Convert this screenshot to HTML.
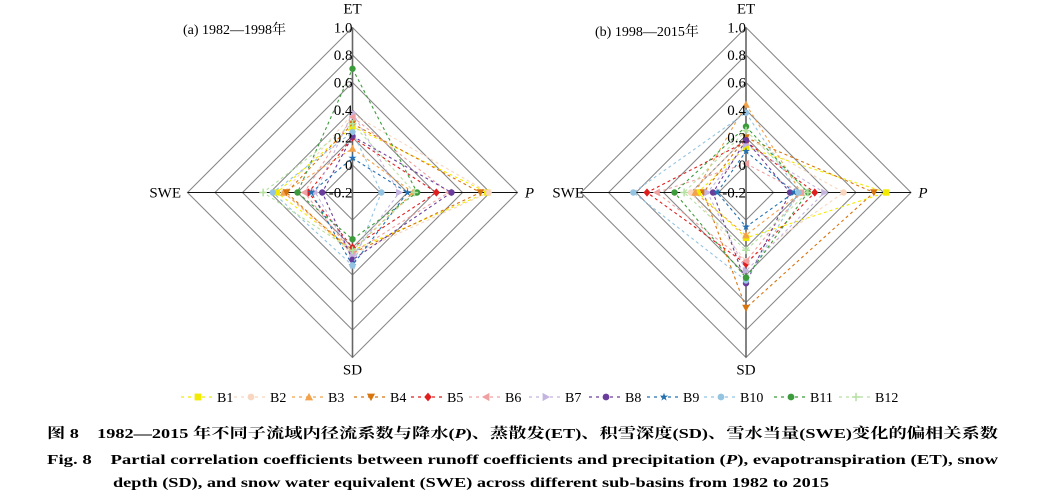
<!DOCTYPE html>
<html><head><meta charset="utf-8"><style>
html,body{margin:0;padding:0;background:#fff;}
svg{display:block;font-family:"Liberation Serif","Noto Serif CJK SC",serif;}
</style></head><body>
<svg id="chart" width="1045" height="496" viewBox="0 0 1045 496" xmlns="http://www.w3.org/2000/svg">
<g id="plots"></g>
<g id="legend"></g>
<text x="47" y="438" font-size="14" font-weight="bold" textLength="951" lengthAdjust="spacingAndGlyphs" font-family="'Liberation Serif','Noto Serif CJK SC',serif">图 8　1982—2015 年不同子流域内径流系数与降水(<tspan font-style="italic">P</tspan>)、蒸散发(ET)、积雪深度(SD)、雪水当量(SWE)变化的偏相关系数</text>
<text x="47" y="464" font-size="14" font-weight="bold" textLength="951" lengthAdjust="spacingAndGlyphs">Fig. 8　Partial correlation coefficients between runoff coefficients and precipitation (<tspan font-style="italic">P</tspan>), evapotranspiration (ET), snow</text>
<text x="113" y="487" font-size="14" font-weight="bold" textLength="716" lengthAdjust="spacingAndGlyphs">depth (SD), and snow water equivalent (SWE) across different sub-basins from 1982 to 2015</text>
</svg>
<script>
const NS="http://www.w3.org/2000/svg";
const axes=["ET","P","SD","SWE"];
const series=["B1","B2","B3","B4","B5","B6","B7","B8","B9","B10","B11","B12"];
const ticks=["1.0","0.8","0.6","0.4","0.2","0","-0.2"];
const tickVals=[1.0,0.8,0.6,0.4,0.2,0,-0.2];
// values per series: [ET, P, SD, SWE]
const dataA=[
 [0.28,0.78,0.22,0.35],[0.37,0.79,0.25,0.30],[0.12,0.24,0.22,0.30],[0.30,0.73,0.24,0.28],
 [0.20,0.41,0.20,0.12],[0.35,0.50,0.24,0.15],[0.38,0.14,0.26,0.07],[0.21,0.52,0.29,0.02],
 [0.05,0.20,0.33,0.10],[0.24,0.01,0.33,0.38],[0.70,0.27,0.14,0.20],[0.30,0.25,0.22,0.45]];
const dataB=[
 [0.13,0.82,0.13,0.15],[0.20,0.51,0.30,0.20],[0.44,0.20,0.11,0.17],[0.20,0.73,0.64,0.11],
 [0.17,0.30,0.32,0.52],[0.01,0.20,0.30,0.45],[0.15,0.37,0.37,0.08],[0.18,0.12,0.46,0.04],
 [0.10,0.15,0.05,0.01],[0.38,0.18,0.44,0.62],[0.28,0.25,0.42,0.32],[0.25,0.25,0.22,0.25]];
const colors=["#f2ea00","#f8d6bf","#f2a24a","#d8740e","#e01e1e","#f0a0a0","#c4b4e0","#6a3c9c","#2470b0","#94c4e2","#3c9c3c","#b4e0a0"];
const markers=["square","circle","tri-up","tri-down","diamond","tri-left","tri-right","circle","star","circle","circle","plus"];
const R=165, vmin=-0.2, vmax=1.0;
function rad(v){return (v-vmin)/(vmax-vmin)*R;}
const dirs=[[0,-1],[1,0],[0,1],[-1,0]];
function el(tag,attrs,parent){const e=document.createElementNS(NS,tag);for(const k in attrs)e.setAttribute(k,attrs[k]);parent.appendChild(e);return e;}
function marker(g,type,x,y,c,s){
 let e;
 if(type==="square")e=el("rect",{x:x-s,y:y-s,width:2*s,height:2*s,fill:c},g);
 else if(type==="circle")e=el("circle",{cx:x,cy:y,r:s,fill:c},g);
 else if(type==="diamond")e=el("polygon",{points:`${x},${y-s*1.3} ${x+s*1.1},${y} ${x},${y+s*1.3} ${x-s*1.1},${y}`,fill:c},g);
 else if(type==="tri-up")e=el("polygon",{points:`${x},${y-s*1.2} ${x+s*1.2},${y+s} ${x-s*1.2},${y+s}`,fill:c},g);
 else if(type==="tri-down")e=el("polygon",{points:`${x},${y+s*1.2} ${x+s*1.2},${y-s} ${x-s*1.2},${y-s}`,fill:c},g);
 else if(type==="tri-left")e=el("polygon",{points:`${x-s*1.2},${y} ${x+s},${y-s*1.2} ${x+s},${y+s*1.2}`,fill:c},g);
 else if(type==="tri-right")e=el("polygon",{points:`${x+s*1.2},${y} ${x-s},${y-s*1.2} ${x-s},${y+s*1.2}`,fill:c},g);
 else if(type==="star"){let p=[];for(let i=0;i<10;i++){const a=-Math.PI/2+i*Math.PI/5,r=i%2?s*0.5:s*1.3;p.push((x+r*Math.cos(a)).toFixed(1)+","+(y+r*Math.sin(a)).toFixed(1));}e=el("polygon",{points:p.join(" "),fill:c},g);}
 else {e=el("path",{d:`M${x-s*1.2},${y}H${x+s*1.2}M${x},${y-s*1.2}V${y+s*1.2}`,stroke:c,"stroke-width":1.5},g);}
 return e;
}
function drawRadar(cx,cy,data,title,tx,ty,name,swex){
 const root=document.getElementById("plots");
 const g=el("g",{},root);
 
 
 // rings
 tickVals.slice(0,6).forEach(v=>{const r=rad(v);
  const ring=el("polygon",{points:`${cx},${cy-r} ${cx+r},${cy} ${cx},${cy+r} ${cx-r},${cy}`,fill:"none",stroke:"#888","stroke-width":1.1},g);
  
  
 });
 const ax=el("path",{d:`M${cx-R},${cy}H${cx+R}`,stroke:"#111","stroke-width":1},g);
 
 
 const ay=el("path",{d:`M${cx},${cy-R}V${cy+R}`,stroke:"#666","stroke-width":1.6},g);
 
 
 // series
 data.forEach((vals,i)=>{
  const sg=el("g",{},g);
  
  
  const pts=vals.map((v,k)=>[cx+dirs[k][0]*rad(v),cy+dirs[k][1]*rad(v)]);
  const poly=el("polygon",{points:pts.map(p=>p.join(",")).join(" "),fill:"none",stroke:colors[i],"stroke-width":1.1,"stroke-dasharray":"3,3"},sg);
  
  
  pts.forEach(p=>{const m=marker(sg,markers[i],p[0],p[1],colors[i],3.2);
   
   });
 });
 // tick labels
 ticks.forEach((t,i)=>{const tl=el("text",{x:cx,y:cy-rad(tickVals[i])+5,"text-anchor":"end","font-size":15},g);tl.textContent=t;
  
  });
 const labs=[["ET",cx,cy-R-14,"middle",""],["P",cx+R+12,cy+5,"middle","italic"],["SD",cx,cy+R+17,"middle",""],["SWE",swex,cy+5,"end",""]];
 labs.forEach(l=>{const t=el("text",{x:l[1],y:l[2],"text-anchor":l[3],"font-size":15,"font-style":l[4]||"normal"},g);t.textContent=l[0];
  
  });
 const tt=el("text",{x:tx,y:ty,"font-size":14},g);tt.textContent=title;
 
 
}
drawRadar(352.5,192.5,dataA,"(a) 1982—1998年",183,34,"radar-a",181);
drawRadar(746,192.5,dataB,"(b) 1998—2015年",595,36,"radar-b",584);
// legend
const lg=document.getElementById("legend");
const legX=[217,270,328,390,447,505,565,625,683,740,810,875];
series.forEach((s,i)=>{
 const x=legX[i];
 const g=el("g",{},lg);
 
 
 el("path",{d:`M${x-36},397H${x-3}`,stroke:colors[i],"stroke-width":1.2,"stroke-dasharray":"3,4"},g);
 marker(g,markers[i],x-19,397,colors[i],3.4);
 const t=el("text",{x:x,y:402,"font-size":14},g);t.textContent=s;
});
</script>
</body></html>
